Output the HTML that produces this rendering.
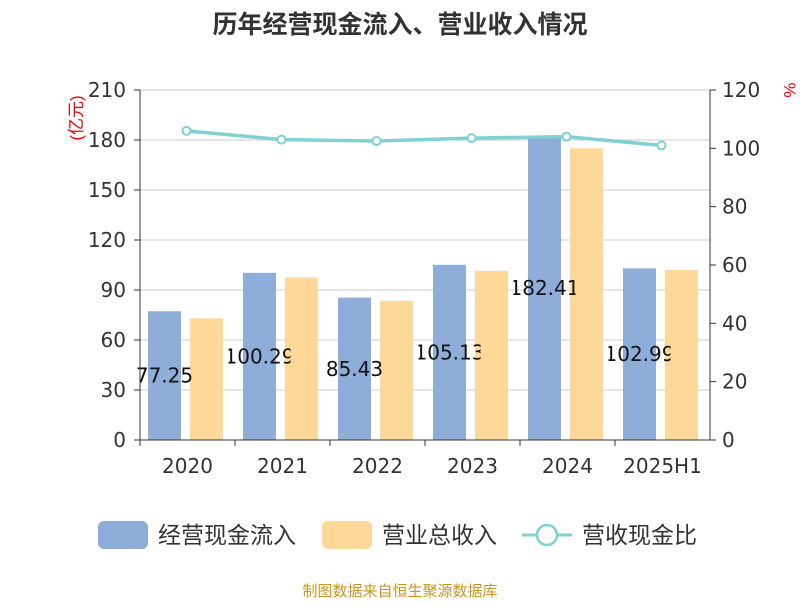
<!DOCTYPE html>
<html><head><meta charset="utf-8"><style>
body{margin:0;background:#fff;font-family:"Liberation Sans","Noto Sans CJK SC",sans-serif}
</style></head><body>
<svg id="c" width="800" height="600" xmlns="http://www.w3.org/2000/svg" font-family="Liberation Sans, Noto Sans CJK SC, sans-serif">
<text x="400" y="33" text-anchor="middle" font-size="25" font-weight="bold" fill="#333">历年经营现金流入、营业收入情况</text>
<text transform="translate(82,118) rotate(-90)" text-anchor="middle" font-size="17" fill="#e00">(亿元)</text>
<text transform="translate(784,90) rotate(90)" text-anchor="middle" font-size="17" fill="#e00">%</text>
<g id="grid"></g><g id="bars"></g><g id="line"></g><g id="axes"></g>
<g>
<rect x="98" y="521" width="50" height="28" rx="6" fill="#8eadd9"/>
<text x="158" y="543" font-size="23" fill="#333">经营现金流入</text>
<rect x="322" y="521" width="50" height="28" rx="6" fill="#fed898"/>
<text x="382" y="543" font-size="23" fill="#333">营业总收入</text>
<line x1="522" y1="535" x2="572" y2="535" stroke="#7fd1d3" stroke-width="3"/>
<circle cx="547" cy="535" r="10" fill="#fff" stroke="#7fd1d3" stroke-width="2.5"/>
<text x="582" y="543" font-size="23" fill="#333">营收现金比</text>
</g>
<text x="400" y="596" text-anchor="middle" font-size="15" fill="#c9961f">制图数据来自恒生聚源数据库</text>
</svg>
<script>
const categories=["2020","2021","2022","2023","2024","2025H1"];
const cashInflow=[77.25,100.29,85.43,105.13,182.41,102.99];
const revenue=[73.0,97.5,83.5,101.5,175.0,102.0];
const ratio=[106.0,103.0,102.5,103.5,104.0,101.0];
const leftTicks=[0,30,60,90,120,150,180,210];
const rightTicks=[0,20,40,60,80,100,120];
const NS="http://www.w3.org/2000/svg";
const NF="DejaVu Sans, Liberation Sans, sans-serif";
const X0=140,X1=710,Y0=440,Y1=90;
const band=(X1-X0)/categories.length;
const yL=v=>Y0-(v/210)*(Y0-Y1);
const yR=v=>Y0-(v/120)*(Y0-Y1);
function mk(tag,attrs,parent,txt){const e=document.createElementNS(NS,tag);for(const k in attrs)e.setAttribute(k,attrs[k]);if(txt!==undefined)e.textContent=txt;parent.appendChild(e);return e;}
const grid=document.getElementById('grid'),bars=document.getElementById('bars'),line=document.getElementById('line'),axes=document.getElementById('axes');
leftTicks.forEach((t,i)=>{
 const y=yL(t);
 if(t>0){const g=mk('line',{x1:X0,x2:X1,y1:y,y2:y,stroke:'#ccc','stroke-width':1},grid);}
 const tk=mk('line',{x1:X0-6,x2:X0,y1:y,y2:y,stroke:'#333'},axes);
 const l=mk('text',{x:X0-14,y:y+7,'text-anchor':'end','font-size':20,fill:'#333','font-family':NF},axes,String(t));
 
 
});
rightTicks.forEach(t=>{
 const y=yR(t);
 const tk=mk('line',{x1:X1,x2:X1+6,y1:y,y2:y,stroke:'#333'},axes);
 const l=mk('text',{x:X1+12,y:y+7,'font-size':20,fill:'#333','font-family':NF},axes,String(t));
 
 
});
let a=mk('line',{x1:X0,x2:X0,y1:Y1,y2:Y0,stroke:'#333'},axes);
a=mk('line',{x1:X1,x2:X1,y1:Y1,y2:Y0,stroke:'#333'},axes);
a=mk('line',{x1:X0,x2:X1,y1:Y0,y2:Y0,stroke:'#333'},axes);
const defs=mk('defs',{},bars);
categories.forEach((c,i)=>{
 const bx=X0+i*band;
 const tk=mk('line',{x1:bx,x2:bx,y1:Y0,y2:Y0+6,stroke:'#333'},axes);
 const l=mk('text',{x:bx+band/2,y:Y0+33,'text-anchor':'middle','font-size':20,fill:'#333','font-family':NF},axes,c);
 
 
 const b1=mk('rect',{x:bx+8,y:yL(cashInflow[i]),width:33,height:Y0-yL(cashInflow[i]),fill:'#8eadd9'},bars);
 
 
 const b2=mk('rect',{x:bx+50,y:yL(revenue[i]),width:33,height:Y0-yL(revenue[i]),fill:'#fed898'},bars);
 
 
 const cx=bx+24.5,my=(yL(cashInflow[i])+Y0)/2;
 const cp=mk('clipPath',{id:'cp'+i,clipPathUnits:'userSpaceOnUse'},defs);
 mk('rect',{x:cx-31,y:my-20,width:62,height:40},cp);
 const v=mk('text',{x:cx,y:my+7,'text-anchor':'middle','font-size':20,fill:'#111','font-family':NF,'clip-path':'url(#cp'+i+')'},bars,cashInflow[i].toFixed(2));
 
 
});
const pts=ratio.map((r,i)=>[X0+i*band+band/2-1,yR(r)]);
const pl=mk('polyline',{points:pts.map(p=>p.join(',')).join(' '),fill:'none',stroke:'#7fd1d3','stroke-width':3.5},line);


pts.forEach((p,i)=>{const c=mk('circle',{cx:p[0],cy:p[1],r:4,fill:'#fff',stroke:'#7fd1d3','stroke-width':2},line);
 
 });
</script>
</body></html>
